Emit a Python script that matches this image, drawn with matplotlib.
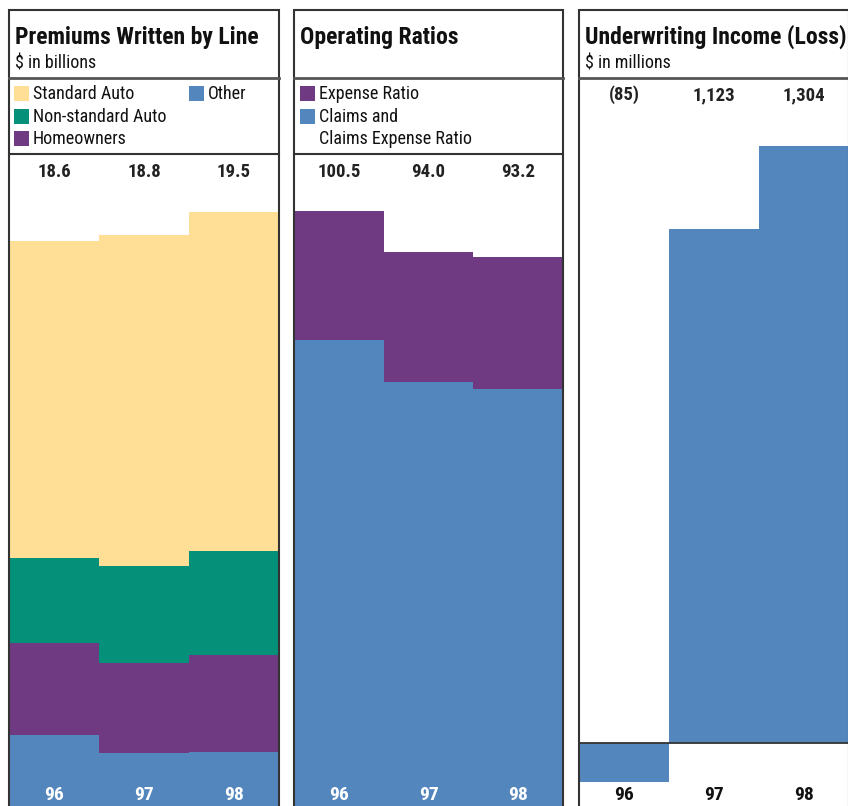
import matplotlib
matplotlib.use('Agg')
import matplotlib.pyplot as plt
from matplotlib.patches import Rectangle
from matplotlib.lines import Line2D
import numpy as np

plt.rcParams['font.family'] = ['Roboto Condensed', 'DejaVu Sans']

years = ['96', '97', '98']

# premiums written, $ billions
premium_totals = ['18.6', '18.8', '19.5']
other = [3.26, 2.70, 2.73]
homeowners = [2.86, 2.80, 3.01]
nonstandard_auto = [2.64, 3.01, 3.23]
standard_auto = [9.84, 10.29, 10.53]

# operating ratios
ratio_totals = ['100.5', '94.0', '93.2']
claims_ratio = [80.0, 73.4, 72.2]
expense_ratio = [20.5, 20.6, 21.0]

# underwriting income, $ millions
uw_income = [-85, 1123, 1304]
uw_labels = ['(85)', '1,123', '1,304']

YELLOW = '#FFDF96'
TEAL = '#05907A'
PURPLE = '#703A82'
BLUE = '#5486BE'
EDGE = '#333333'
INK = '#111111'

W, H = 848, 806
fig = plt.figure(figsize=(W / 100, H / 100), dpi=100)


def fx(x):
    return x / W


def fy(y):
    return 1 - y / H


def hline(x0, x1, y, lw=1.5, color=EDGE):
    fig.add_artist(Line2D([fx(x0), fx(x1)], [fy(y), fy(y)], transform=fig.transFigure,
                          color=color, lw=lw))


def data_axes(left, right, top, bottom):
    ax = fig.add_axes([fx(left), fy(bottom), fx(right) - fx(left), (bottom - top) / H])
    ax.set_xlim(0, 3)
    ax.axis('off')
    return ax


x = np.arange(3)

# ---- panel 1: premiums written by line
L1, R1 = 9, 279
ax1 = data_axes(L1, R1, 154, 840)
bottom = np.zeros(3)
for vals, col in [(other, BLUE), (homeowners, PURPLE), (nonstandard_auto, TEAL), (standard_auto, YELLOW)]:
    ax1.bar(x, vals, width=1.0, align='edge', bottom=bottom, color=col, linewidth=0)
    bottom += np.array(vals)
ax1.set_ylim(0, 21.3)

# ---- panel 2: operating ratios
L2, R2 = 294, 563
ax2 = data_axes(L2, R2, 154, 845)
ax2.bar(x, claims_ratio, width=1.0, align='edge', color=BLUE, linewidth=0)
ax2.bar(x, expense_ratio, width=1.0, align='edge', bottom=claims_ratio, color=PURPLE, linewidth=0)
ax2.set_ylim(0, 109.5)

# ---- panel 3: underwriting income
L3, R3 = 579, 849
ax3 = data_axes(L3, R3, 78, 806)
ax3.bar(x, uw_income, width=1.0, align='edge', color=BLUE, linewidth=0)
ax3.axhline(0, color=EDGE, lw=1.3)
ax3.set_ylim(-137.5, 1452)

# panel frames
for left, right in [(L1, R1), (L2, R2), (L3, R3)]:
    fig.add_artist(Rectangle((fx(left), fy(900)), fx(right) - fx(left), (900 - 10) / H,
                             transform=fig.transFigure, fill=False, edgecolor=EDGE, lw=1.5))
    hline(left, right, 78, lw=2, color='#555555')
hline(L1, R1, 154)
hline(L2, R2, 154)

# titles
title_kw = dict(fontsize=17, fontweight='bold', color=INK, va='baseline', ha='left')
sub_kw = dict(fontsize=13, color=INK, va='baseline', ha='left')
fig.text(fx(15), fy(44), 'Premiums Written by Line', **title_kw)
fig.text(fx(15), fy(68), '$ in billions', **sub_kw)
fig.text(fx(300), fy(44), 'Operating Ratios', **title_kw)
fig.text(fx(585), fy(44), 'Underwriting Income (Loss)', **title_kw)
fig.text(fx(585), fy(68), '$ in millions', **sub_kw)


# legends
def legend_item(xs, ys, color, label):
    fig.add_artist(Rectangle((fx(xs), fy(ys + 7)), 15 / W, 15 / H, transform=fig.transFigure,
                             facecolor=color, edgecolor='none'))
    fig.text(fx(xs + 19), fy(ys), label, fontsize=13, color=INK, va='center', ha='left')


legend_item(14, 94, YELLOW, 'Standard Auto')
legend_item(14, 117, TEAL, 'Non-standard Auto')
legend_item(14, 139, PURPLE, 'Homeowners')
legend_item(189, 94, BLUE, 'Other')
legend_item(300, 94, PURPLE, 'Expense Ratio')
legend_item(300, 117, BLUE, 'Claims and')
fig.text(fx(319), fy(139), 'Claims Expense Ratio', fontsize=13, color=INK, va='center', ha='left')

# value labels and year labels
val_kw = dict(fontsize=13.5, fontweight='bold', color='#222222', ha='center', va='center')
for i in range(3):
    c1 = fx(L1) + (fx(R1) - fx(L1)) * (i + 0.5) / 3
    c2 = fx(L2) + (fx(R2) - fx(L2)) * (i + 0.5) / 3
    c3 = fx(L3) + (fx(R3) - fx(L3)) * (i + 0.5) / 3
    fig.text(c1, fy(172), premium_totals[i], **val_kw)
    fig.text(c2, fy(172), ratio_totals[i], **val_kw)
    fig.text(c3, fy(95), uw_labels[i], **val_kw)
    fig.text(c1, fy(795), years[i], fontsize=14, fontweight='bold', color='white', ha='center', va='center')
    fig.text(c2, fy(795), years[i], fontsize=14, fontweight='bold', color='white', ha='center', va='center')
    fig.text(c3, fy(795), years[i], fontsize=14, fontweight='bold', color=INK, ha='center', va='center')

fig.savefig('out.png', dpi=100)
